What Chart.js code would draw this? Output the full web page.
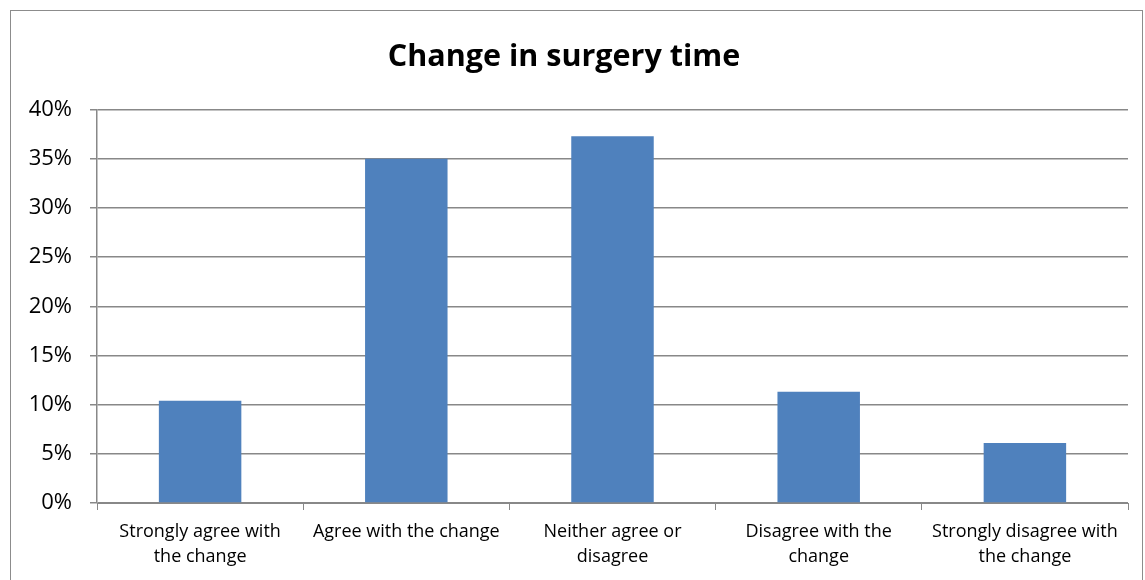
<!DOCTYPE html>
<html>
<head>
<meta charset="utf-8">
<script src="https://cdn.jsdelivr.net/npm/chart.js@4/dist/chart.umd.min.js"></script>
<style>
  html, body { margin: 0; padding: 0; background: #fff; }
  #wrap { position: relative; width: 1145px; height: 580px; }
  #frame { position: absolute; left: 10px; top: 10px; width: 1133px; height: 575px; border: 1px solid #8c8c8c; box-sizing: border-box; }
  canvas { position: absolute; left: 0; top: 0; }
</style>
</head>
<body>
<div id="wrap">
  <div id="frame"></div>
  <canvas id="chart" width="1145" height="580"></canvas>
</div>
<script>
// Survey answers, share of respondents (%)
const categories = [
  ['Strongly agree with', 'the change'],
  ['Agree with the change'],
  ['Neither agree or', 'disagree'],
  ['Disagree with the', 'change'],
  ['Strongly disagree with', 'the change'],
];
const shares = [10.4, 35.0, 37.3, 11.3, 6.1];
const yTicks = [0, 5, 10, 15, 20, 25, 30, 35, 40];

const FONT = '"Open Sans", Lato, sans-serif';

new Chart(document.getElementById('chart'), {
  type: 'bar',
  data: {
    labels: categories,
    datasets: [{
      data: shares,
      backgroundColor: '#4F81BD',
      borderWidth: 0,
      barPercentage: 0.4,
      categoryPercentage: 1,
    }],
  },
  options: {
    responsive: false,
    animation: false,
    layout: { padding: { left: 0, right: 17, top: 0, bottom: 0 } },
    plugins: {
      legend: { display: false },
      tooltip: { enabled: false },
      title: {
        display: true,
        text: 'Change in surgery time',
        color: '#000',
        font: { family: FONT, size: 30.5, weight: 'bold', lineHeight: 1.2 },
        padding: { top: 39, bottom: 34 },
      },
    },
    scales: {
      x: {
        offset: true,
        grid: { offset: true, drawOnChartArea: false, drawTicks: true, tickLength: 7, color: '#888' },
        border: { display: true, color: '#888' },
        ticks: { color: '#000', font: { family: FONT, size: 18, lineHeight: 1.4 }, padding: 9, maxRotation: 0, autoSkip: false },
        afterFit: s => { s.height = 77; },
      },
      y: {
        min: 0,
        max: 40,
        afterBuildTicks: s => { s.ticks = yTicks.map(v => ({ value: v })); },
        grid: { color: '#888', lineWidth: 1.5, tickLength: 7 },
        border: { display: true, color: '#888', width: 1.5 },
        ticks: { color: '#000', font: { family: FONT, size: 22 }, padding: 18, callback: v => v + '%' },
        afterFit: s => { s.width = 97; },
      },
    },
  },
});
</script>
</body>
</html>
